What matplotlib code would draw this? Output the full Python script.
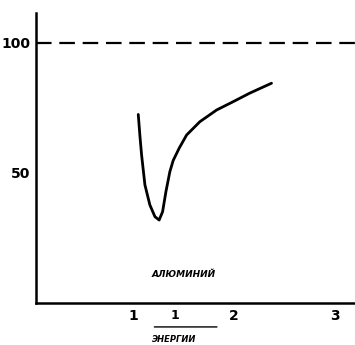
import matplotlib
matplotlib.use("Agg")
import matplotlib.pyplot as plt

# data
x_curve = [1.053, 1.070, 1.086, 1.119, 1.168, 1.218, 1.260, 1.294, 1.327, 1.366,
           1.399, 1.458, 1.532, 1.663, 1.829, 1.993, 2.158, 2.373]
y_curve = [72.5, 64.0, 56.9, 45.4, 37.7, 33.2, 31.9, 35.1, 42.8, 50.5,
           54.8, 59.5, 64.6, 69.7, 74.2, 77.4, 80.7, 84.5]
ref_level = 100
x_ticks = [1, 2, 3]
x_tick_labels = ["1", "2", "3"]
y_ticks = [50, 100]
y_tick_labels = ["50", "100"]
material_label = "АЛЮМИНИЙ"
x_label_num = "1"
x_label_den = "ЭНЕРГИИ"

fig = plt.figure(figsize=(3.55, 3.45), dpi=100)
ax = fig.add_axes([36/355, 42/345, 1 - 36/355, 290/345])
ax.set_xlim(0.04, 3.2)
ax.set_ylim(0, 111.5)

ax.plot(x_curve, y_curve, color="black", lw=2.0, solid_capstyle="round", solid_joinstyle="round")
ax.axhline(ref_level, color="black", lw=1.6, dashes=(7, 3.5))

for s in ["top", "right"]:
    ax.spines[s].set_visible(False)
for s in ["left", "bottom"]:
    ax.spines[s].set_linewidth(1.8)

ax.set_xticks(x_ticks)
ax.set_xticklabels(x_tick_labels, fontsize=10, fontweight="bold")
ax.set_yticks(y_ticks)
ax.set_yticklabels(y_tick_labels, fontsize=10, fontweight="bold")
ax.tick_params(length=0, pad=4)

ax.text(1.18, 11, material_label, fontsize=6.5, style="italic", fontweight="bold", ha="left", va="center")
ax.text(1.42, -4.8, x_label_num, fontsize=9, fontweight="bold", ha="center", va="center", clip_on=False)
ax.annotate("", xy=(1.86, -9.2), xytext=(1.185, -9.2), xycoords="data",
            arrowprops=dict(arrowstyle="-", lw=1.0, color="black"), annotation_clip=False)
ax.text(1.19, -14.2, x_label_den, fontsize=6, style="italic", fontweight="bold", ha="left", va="center", clip_on=False)

fig.savefig("out.png", dpi=100)
